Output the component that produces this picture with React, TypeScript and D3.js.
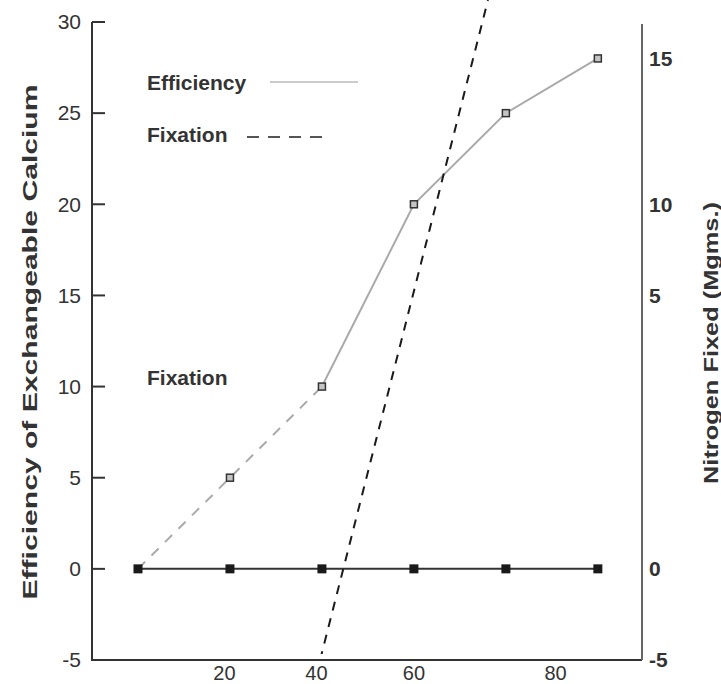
import React from 'react';
import * as d3 from 'd3';

const W = 721;
const H = 684;
const FONT = '"Liberation Sans", Arial, Helvetica, sans-serif';

// efficiency of exchangeable calcium, solid part (left axis units)
const effX = [40, 60, 80, 100];
const effY = [10, 20, 25, 28];
// efficiency, dashed low part
const effLowX = [0, 20, 40];
const effLowY = [0, 5, 10];
// zero line markers
const baseX = [0, 20, 40, 60, 80, 100];
const baseY = [0, 0, 0, 0, 0, 0];
// fixation line end points
const fixX = [39.6, 76.1];
const fixY = [-5, 31.2];

const leftTicks = [-5, 0, 5, 10, 15, 20, 25, 30];
const rightLabels = ['15', '10', '5', '0', '-5'];
const rightLabelPos = [28, 20, 15, 0, -5];
const bottomLabels = ['20', '40', '60', '80'];
const bottomLabelPos = [18.8, 38.8, 60, 90.8];

export default function App() {
  const x = d3.scaleLinear().domain([-10, 109.6]).range([92, 642]);
  const y = d3.scaleLinear().domain([-5, 30]).range([660, 22]);

  const line = d3.line<[number, number]>()
    .x(d => x(d[0]))
    .y(d => y(d[1]));

  const zip = (a: number[], b: number[]) => a.map((v, i) => [v, b[i]] as [number, number]);

  const effPts = zip(effX, effY);
  const effLowPts = zip(effLowX, effLowY);
  const basePts = zip(baseX, baseY);
  const fixPts = zip(fixX, fixY);
  const hollow = zip([20, 40, 60, 80, 100], [5, 10, 20, 25, 28]);

  const [x0, x1] = x.range();
  const [yb, yt] = y.range();

  return (
    <svg width={W} height={H} style={{ position: 'absolute', left: 0, top: 0, background: '#fff' }}
      fontFamily={FONT}>
      <defs>
        <clipPath id="clip">
          <rect x={0} y={0} width={W} height={yb - 6} />
        </clipPath>
      </defs>

      {/* efficiency */}
      <path d={line(effLowPts) || ''} fill="none" stroke="#aaa" strokeWidth={2} strokeDasharray="10 9" />
      <path d={line(effPts) || ''} fill="none" stroke="#aaa" strokeWidth={2} />

      {/* zero line */}
      <path d={line(basePts) || ''} fill="none" stroke="#333" strokeWidth={2} />
      {basePts.map((d, i) => (
        <rect key={i} x={x(d[0]) - 4.5} y={y(d[1]) - 4.5} width={9} height={9} fill="#1a1a1a" />
      ))}

      {/* fixation */}
      <path d={line(fixPts) || ''} fill="none" stroke="#1a1a1a" strokeWidth={2}
        strokeDasharray="9 8" clipPath="url(#clip)" />

      {hollow.map((d, i) => (
        <rect key={i} x={x(d[0]) - 3.5} y={y(d[1]) - 3.5} width={7} height={7}
          fill="#c4c4c4" stroke="#333" strokeWidth={1.5} />
      ))}

      {/* axes */}
      <path d={`M${x0},${yt}V${yb}H${x1}`} fill="none" stroke="#333" strokeWidth={2} />
      <line x1={x1} x2={x1} y1={24} y2={yb} stroke="#666" strokeWidth={2} />
      {leftTicks.map(t => (
        <g key={t}>
          <line x1={x0} x2={x0 + 13} y1={y(t)} y2={y(t)} stroke="#333" strokeWidth={2} />
          <text x={81} y={y(t)} dy="0.35em" textAnchor="end" fontSize={21} fill="#333">{t}</text>
        </g>
      ))}
      {rightLabels.map((t, i) => (
        <text key={t} x={x1 + 7} y={y(rightLabelPos[i])} dy="0.35em" fontSize={21}
          fontWeight="bold" fill="#333">{t}</text>
      ))}
      {bottomLabels.map((t, i) => (
        <text key={t} x={x(bottomLabelPos[i])} y={680} textAnchor="middle" fontSize={20} fill="#333">{t}</text>
      ))}

      {/* axis titles */}
      <text transform="translate(37,342) rotate(-90)" textAnchor="middle" fontSize={21}
        fontWeight="bold" fill="#333" textLength={515} lengthAdjust="spacingAndGlyphs">
        Efficiency of Exchangeable Calcium
      </text>
      <text transform="translate(718,343) rotate(-90)" textAnchor="middle" fontSize={20}
        fontWeight="bold" fill="#333" textLength={282} lengthAdjust="spacingAndGlyphs">
        Nitrogen Fixed (Mgms.)
      </text>

      {/* legend */}
      <text x={147} y={90} fontSize={21} fontWeight="bold" fill="#333">Efficiency</text>
      <line x1={270} x2={358} y1={82} y2={82} stroke="#bbb" strokeWidth={1.5} />
      <text x={147} y={142} fontSize={21} fontWeight="bold" fill="#333">Fixation</text>
      <line x1={247} x2={322} y1={137} y2={137} stroke="#555" strokeWidth={2} strokeDasharray="12 9" />

      <text x={147} y={385} fontSize={21} fontWeight="bold" fill="#333">Fixation</text>
    </svg>
  );
}
